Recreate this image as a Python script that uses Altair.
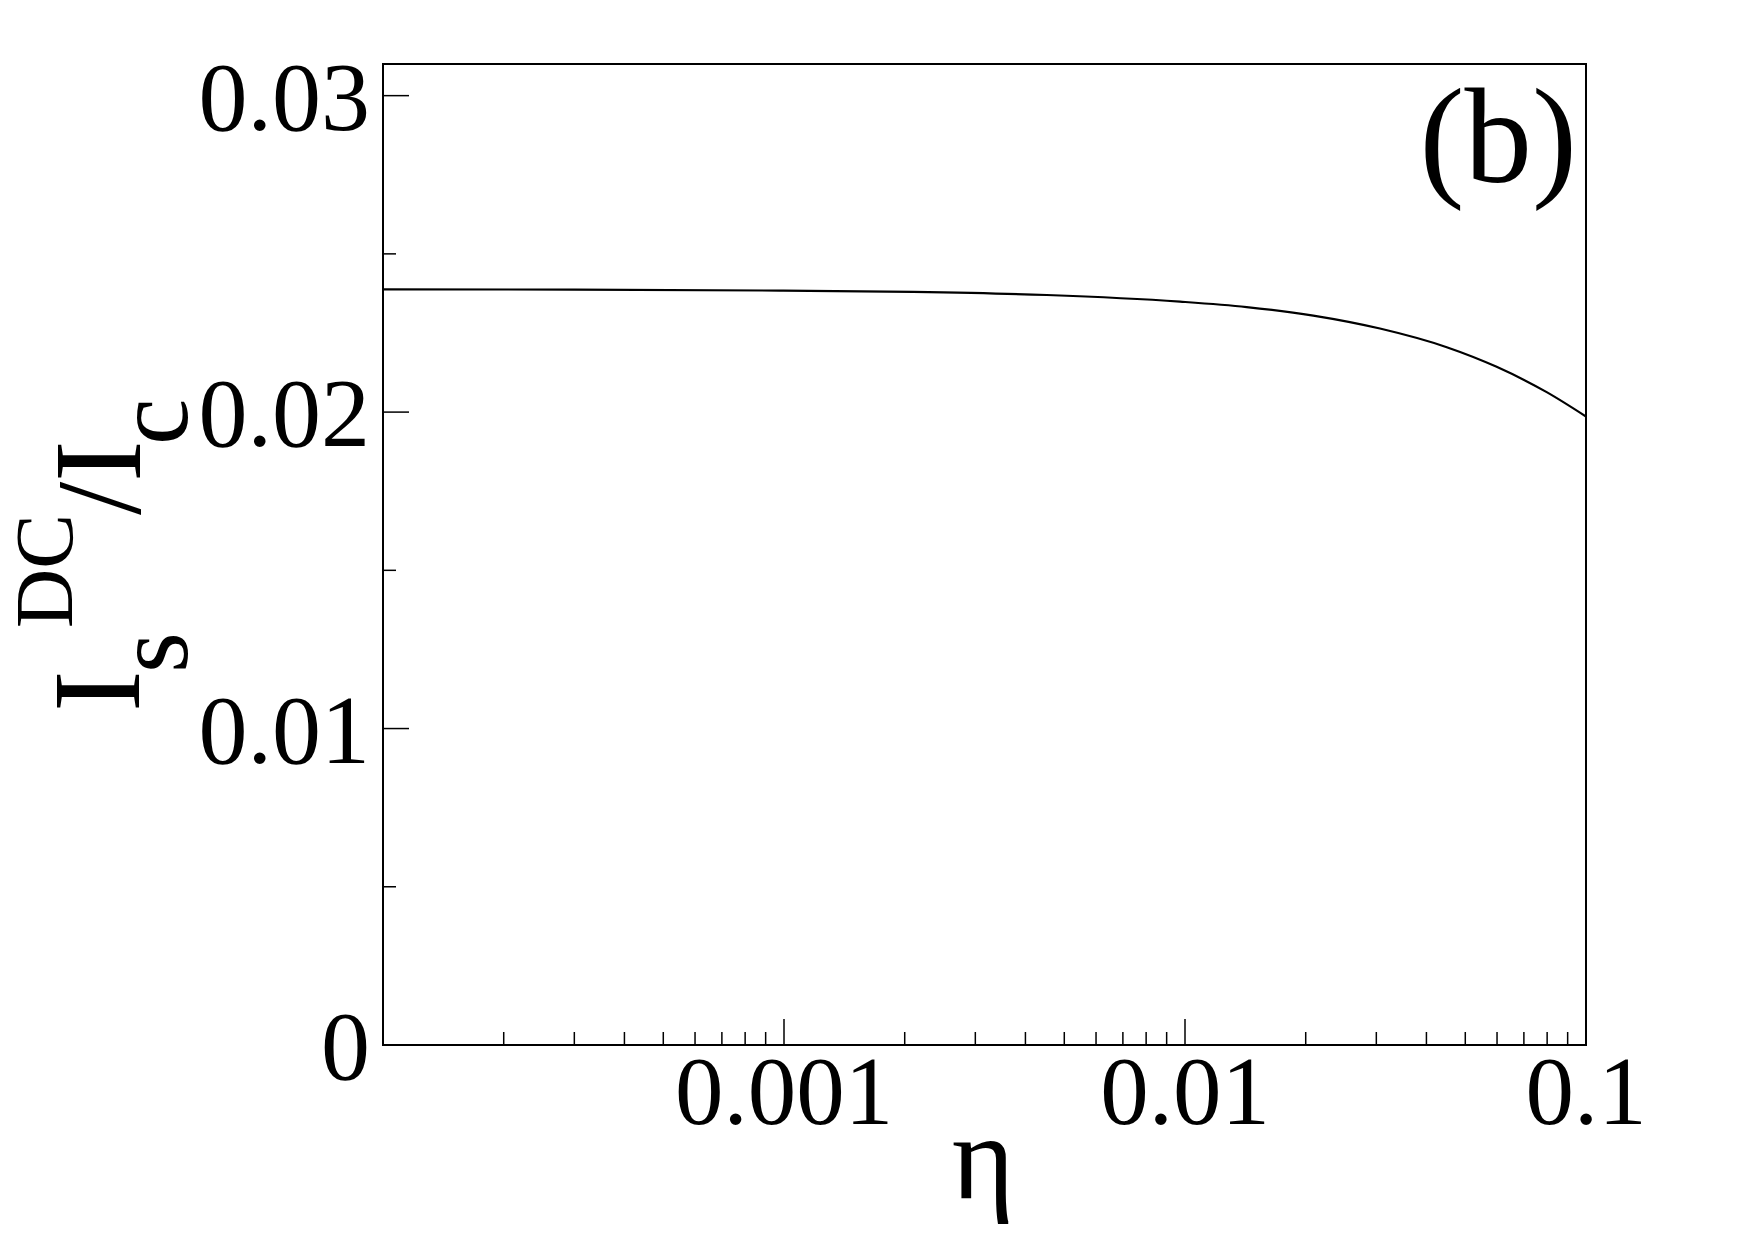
import altair as alt
import pandas as pd

# ---- data ----
eta = [0.0001, 0.0003, 0.000977, 0.0021, 0.00452, 0.00972, 0.01425, 0.02089,
       0.03063, 0.04495, 0.05986, 0.0798, 0.1]
ratio = [0.02388, 0.02387, 0.02384, 0.02380, 0.02370, 0.02349, 0.02332, 0.02305,
         0.02264, 0.02205, 0.02143, 0.02063, 0.01986]

x_label_values = [0.001, 0.01, 0.1]
x_label_texts = ["0.001", "0.01", "0.1"]
y_label_values = [0, 0.01, 0.02, 0.03]
y_label_texts = ["0", "0.01", "0.02", "0.03"]
x_major_ticks = [0.001, 0.01]
x_minor_ticks = [m * d for d in (1e-4, 1e-3, 1e-2) for m in range(2, 10)]
y_major_ticks = [0.01, 0.02, 0.03]
y_minor_ticks = [0.005, 0.015, 0.025]

title_parts = ["I", "s", "DC", "/", "I", "c"]
x_title = "η"
panel_label = "(b)"

# ---- layout / style ----
W, H = 1203, 981
FONT = "Liberation Serif"

xs = alt.Scale(type="log", domain=[1e-4, 0.1], nice=False)
ys = alt.Scale(domain=[0, 0.031], nice=False, zero=False)

df = pd.DataFrame({"eta": eta, "v": ratio})

line = alt.Chart(df).mark_line(color="black", strokeWidth=2.2,
                               interpolate="monotone", clip=True).encode(
    x=alt.X("eta:Q", scale=xs, axis=None),
    y=alt.Y("v:Q", scale=ys, axis=None),
)


def xticks(vals, length):
    return alt.Chart(pd.DataFrame({"t": vals})).mark_rule(
        color="black", strokeWidth=1.5).encode(
        x=alt.X("t:Q", scale=xs, axis=None),
        y=alt.value(H), y2=alt.value(H - length))


def yticks(vals, length):
    return alt.Chart(pd.DataFrame({"t": vals})).mark_rule(
        color="black", strokeWidth=1.5).encode(
        y=alt.Y("t:Q", scale=ys, axis=None),
        x=alt.value(0), x2=alt.value(length))


x_labels = alt.Chart(pd.DataFrame({"v": x_label_values, "s": x_label_texts})).mark_text(
    font=FONT, fontSize=97, align="center", baseline="alphabetic", color="black").encode(
    x=alt.X("v:Q", scale=xs, axis=None), y=alt.value(H + 79), text="s:N")

y_labels = alt.Chart(pd.DataFrame({"v": y_label_values, "s": y_label_texts})).mark_text(
    font=FONT, fontSize=98, align="right", baseline="alphabetic", color="black", dy=34).encode(
    y=alt.Y("v:Q", scale=ys, axis=None), x=alt.value(-13), text="s:N")


def txt(s, x, y, size, angle=0, align="left"):
    return alt.Chart(alt.Data(values=[{"s": s}])).mark_text(
        font=FONT, fontSize=size, angle=angle, align=align,
        baseline="alphabetic", color="black").encode(
        x=alt.value(x), y=alt.value(y), text="s:N")


title_layers = [
    txt(title_parts[0], -244, 648, 125, angle=270),
    txt(title_parts[1], -196, 609, 105, angle=270),
    txt(title_parts[2], -311, 564, 82, angle=270),
    txt(title_parts[3], -243, 451, 120, angle=270),
    txt(title_parts[4], -243, 418, 125, angle=270),
    txt(title_parts[5], -196, 381, 105, angle=270),
]

chart = alt.layer(
    line,
    xticks(x_major_ticks, 26),
    xticks(x_minor_ticks, 13),
    yticks(y_major_ticks, 26),
    yticks(y_minor_ticks, 13),
    x_labels,
    y_labels,
    txt(x_title, 600, 1134, 120, align="center"),
    txt(panel_label, 1194, 118, 135, align="right"),
    *title_layers,
).properties(
    width=W, height=H,
    autosize=alt.AutoSizeParams(type="none"),
    padding={"left": 383, "top": 64, "right": 169, "bottom": 195},
    background="white",
).configure_view(stroke="black", strokeWidth=2)

chart.save("out.html", embed_options={"renderer": "svg", "actions": False})
